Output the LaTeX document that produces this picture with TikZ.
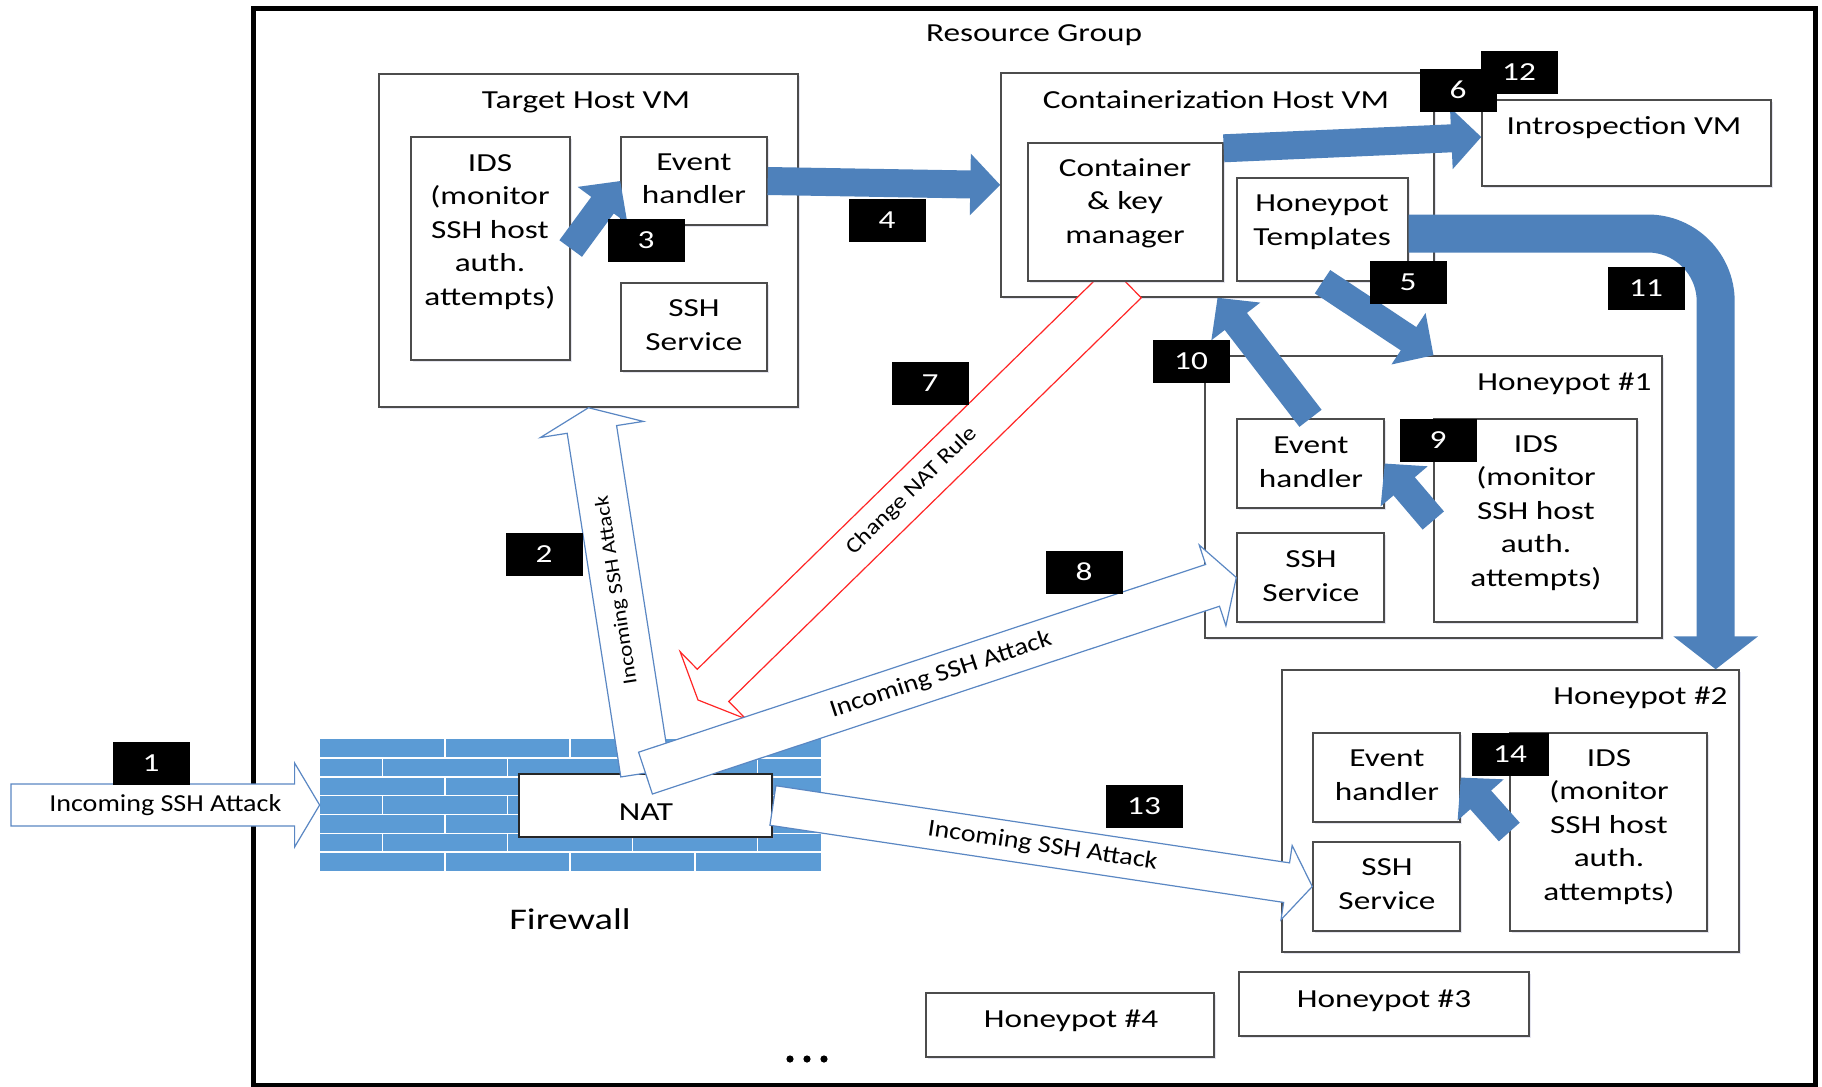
\documentclass[tikz,border=0pt]{standalone}
\usepackage{fontspec}
\setmainfont{Carlito}[FakeStretch=1.28]
\newfontfamily\arrowfont{Carlito}[FakeStretch=1.15]
\usetikzlibrary{positioning}
\usetikzlibrary{fit}
\usetikzlibrary{calc}
\usetikzlibrary{arrows.meta}
\usetikzlibrary{shadows}
\definecolor{flowblue}{RGB}{78,129,187}
\definecolor{brickblue}{RGB}{91,155,213}
\definecolor{rimblue}{RGB}{90,135,195}
\pgfdeclarelayer{back}
\pgfdeclarelayer{mid}
\pgfsetlayers{back,mid,main}
% Hollow block arrow: [style]{from}{to}{half shaft}{half head}{head length}
\newcommand{\hollowarrow}[6][]{%
  \coordinate (ha-s) at (#2);
  \coordinate (ha-e) at (#3);
  \coordinate (ha-b) at ($(ha-e)!#6!(ha-s)$);
  \draw[hollow,#1] ($(ha-s)!#4!90:(ha-e)$) -- ($(ha-b)!#4!90:(ha-e)$)
    -- ($(ha-b)!#5!90:(ha-e)$) -- (ha-e) -- ($(ha-b)!#5!-90:(ha-e)$)
    -- ($(ha-b)!#4!-90:(ha-e)$) -- ($(ha-s)!#4!-90:(ha-e)$) -- cycle;
}
\begin{document}
\begin{tikzpicture}[
            x=0.5pt, y=-0.5pt,
            txt/.style={align=center, inner sep=0pt, font=\fontsize{13}{16.75}\selectfont},
            atxt/.style={inner sep=0pt, font=\arrowfont\fontsize{12.2}{14}\selectfont},
            box/.style={draw=black!70, line width=0.7pt, fill=white, inner sep=0pt,
                drop shadow={shadow xshift=1pt, shadow yshift=-1.2pt, fill=blue!40!black!40, opacity=0.25}},
            frame/.style={draw=black, line width=2.5pt, inner sep=0pt},
            num/.style={fill=black, text=white, minimum width=38.5pt, minimum height=21.5pt, inner sep=0pt,
                font=\fontsize{13}{15}\selectfont},
            flow/.style={draw=flowblue, line width=14pt, -{Triangle[width=30pt, length=15pt]}},
            hollow/.style={draw=rimblue, line width=0.6pt, fill=white},
            natred/.style={draw=red!85, line width=0.6pt, fill=white},
            mortar/.style={draw=white, line width=0.8pt}
        ]
        \useasboundingbox (0,0) rectangle (1822,1087);

        % Containers
        \begin{pgfonlayer}{back}
        \node[frame, fit={(253,8) (1815,1085)}] (rg) {};
        \node[box, fit={(379,74) (798,407)}] (thv) {};
        \node[box, fit={(1001,73) (1434,297)}] (chv) {};
        \node[box, fit={(1205,356) (1662,638)}] (hp1) {};
        \node[box, fit={(1282,670) (1739,952)}] (hp2) {};
        \end{pgfonlayer}
        \node[txt] (rgtitle) at (1034,35) {Resource Group};
        \node[txt] (thvtitle) at (586,102) {Target Host VM};
        \node[txt] (chvtitle) at (1216,100) {Containerization Host VM};
        \node[txt, anchor=east] (hp1title) at (1652,384) {Honeypot \#1};
        \node[txt, anchor=east] (hp2title) at (1728,698) {Honeypot \#2};

        % Target host VM
        \node[box, fit={(411,137) (570,360)}] (tids) {};
        \node[txt] (tidstext) at (490,232) {IDS\\(monitor\\SSH host\\auth.\\attempts)};
        \node[box, fit={(621,137) (767,225)}] (tevh) {};
        \node[txt] (tevhtext) at (694,179) {Event\\handler};
        \node[box, fit={(621,283) (767,371)}] (tssh) {};
        \node[txt] (tsshtext) at (694,325) {SSH\\Service};

        % Containerization host VM
        \node[box, fit={(1028,143) (1223,281)}] (ckm) {};
        \node[txt] (ckmtext) at (1125,203) {Container\\\& key\\manager};
        \node[box, fit={(1237,178) (1408,281)}] (hpt) {};
        \node[txt] (hpttext) at (1322,222) {Honeypot\\Templates};
        \node[box, fit={(1482,100) (1771,186)}] (ivm) {};
        \node[txt] (ivmtext) at (1624,128) {Introspection VM};

        % Honeypots
        \node[box, fit={(1237,419) (1384,508)}] (hp1evh) {};
        \node[txt] (hp1evhtext) at (1311,462) {Event\\handler};
        \node[box, fit={(1237,533) (1384,622)}] (hp1ssh) {};
        \node[txt] (hp1sshtext) at (1311,576) {SSH\\Service};
        \node[box, fit={(1434,419) (1637,622)}] (hp1ids) {};
        \node[txt] (hp1idstext) at (1536,513) {IDS\\(monitor\\SSH host\\auth.\\attempts)};
        \node[box, fit={(1313,733) (1460,822)}] (hp2evh) {};
        \node[txt] (hp2evhtext) at (1387,775) {Event\\handler};
        \node[box, fit={(1313,842) (1460,931)}] (hp2ssh) {};
        \node[txt] (hp2sshtext) at (1387,884) {SSH\\Service};
        \node[box, fit={(1510,733) (1707,931)}] (hp2ids) {};
        \node[txt] (hp2idstext) at (1609,827) {IDS\\(monitor\\SSH host\\auth.\\attempts)};
        \node[box, fit={(1239,972) (1529,1036)}] (hp3) {};
        \node[txt] (hp3text) at (1384,1001) {Honeypot \#3};
        \node[box, fit={(926,993) (1214,1057)}] (hp4) {};
        \node[txt] (hp4text) at (1071,1021) {Honeypot \#4};
        \foreach \x in {790,807,824} \fill (\x,1059) circle (1.8pt);

        % Firewall and NAT
        \node[fill=brickblue, inner sep=0pt, fit={(320,739) (821,871)}] (fw) {};
        \foreach \y in {757.9,776.7,795.6,814.4,833.3,852.1} \draw[mortar] (320,\y) -- (821,\y);
        \foreach \x in {445,570,695} \foreach \r in {0,2,4,6}
            \draw[mortar] (\x,{739+\r*18.857}) -- (\x,{739+(\r+1)*18.857});
        \foreach \x in {382.5,507.5,632.5,757.5} \foreach \r in {1,3,5}
            \draw[mortar] (\x,{739+\r*18.857}) -- (\x,{739+(\r+1)*18.857});
        \node[txt, font=\fontsize{15}{18}\selectfont] (fwlabel) at (570,919) {Firewall};
        \node[box, draw=black!85, line width=0.9pt, fit={(519,774) (772,837)}] (nat) {};
        \node[txt] (nattext) at (646,812) {NAT};

        % Change NAT rule
        \coordinate (natrule) at (698,700);
        \begin{pgfonlayer}{mid}
        \hollowarrow[natred]{ckm.south}{natrule}{11.25pt}{23.5pt}{10.5pt}
        \path (ckm.south) -- (natrule) node[atxt, font=\arrowfont\fontsize{10.9}{13}\selectfont, midway, sloped] (a7lbl) {Change NAT Rule};
        \end{pgfonlayer}

        % Incoming attack paths
        \coordinate (attacker) at (11,805);
        \hollowarrow{attacker}{fw.west}{10.5pt}{21pt}{12.5pt}
        \path (attacker) -- (fw.west) node[atxt, midway] (a1lbl) {Incoming SSH Attack};
        \hollowarrow{nat.north}{thv.south}{12.5pt}{26pt}{11pt}
        \path (nat.north) -- (thv.south) node[atxt, font=\arrowfont\fontsize{10}{12}\selectfont, midway, sloped, allow upside down] (a2lbl) {Incoming SSH Attack};
        \hollowarrow{nat.north}{hp1ssh.west}{11pt}{21.25pt}{12.5pt}
        \path (nat.north) -- (hp1ssh.west) node[atxt, midway, sloped] (a8lbl) {Incoming SSH Attack};
        \hollowarrow{nat.east}{hp2ssh.west}{10pt}{18.75pt}{13pt}
        \path (nat.east) -- (hp2ssh.west) node[atxt, midway, sloped] (a13lbl) {Incoming SSH Attack};

        % Event flow
        \draw[flow] (tids.east) -- (tevh.west);
        \draw[flow] (tevh.east) -- (chv.west);
        \draw[flow] ([yshift=-3pt]ckm.north east) -- ([yshift=3pt]ivm.west);
        \draw[flow] (hpt.south) -- (hp1.north);
        \draw[flow] (hp1evh.north) -- (chv.south);
        \draw[flow] (hp1ids.west) -- (hp1evh.east);
        \draw[flow] (hp2ids.west) -- (hp2evh.east);
        \draw[flow, line width=19pt, -{Triangle[width=41.5pt, length=16.5pt]}, rounded corners=34pt]
            ([yshift=-2pt]hpt.east) -| ([xshift=-12pt]hp2.north east);

        % Step numbers
        \node[num] (n1) at (151,763) {1};
        \node[num] (n2) at (544,554) {2};
        \node[num] (n3) at (646,240) {3};
        \node[num] (n4) at (887,220) {4};
        \node[num] (n5) at (1408,282) {5};
        \node[num] (n6) at (1458,90) {6};
        \node[num] (n12) at (1519,72) {12};
        \node[num] (n7) at (930,383) {7};
        \node[num] (n8) at (1084,572) {8};
        \node[num] (n9) at (1438,440) {9};
        \node[num] (n10) at (1191,361) {10};
        \node[num] (n11) at (1646,288) {11};
        \node[num] (n13) at (1144,806) {13};
        \node[num] (n14) at (1510,754) {14};

    \end{tikzpicture}
\end{document}
